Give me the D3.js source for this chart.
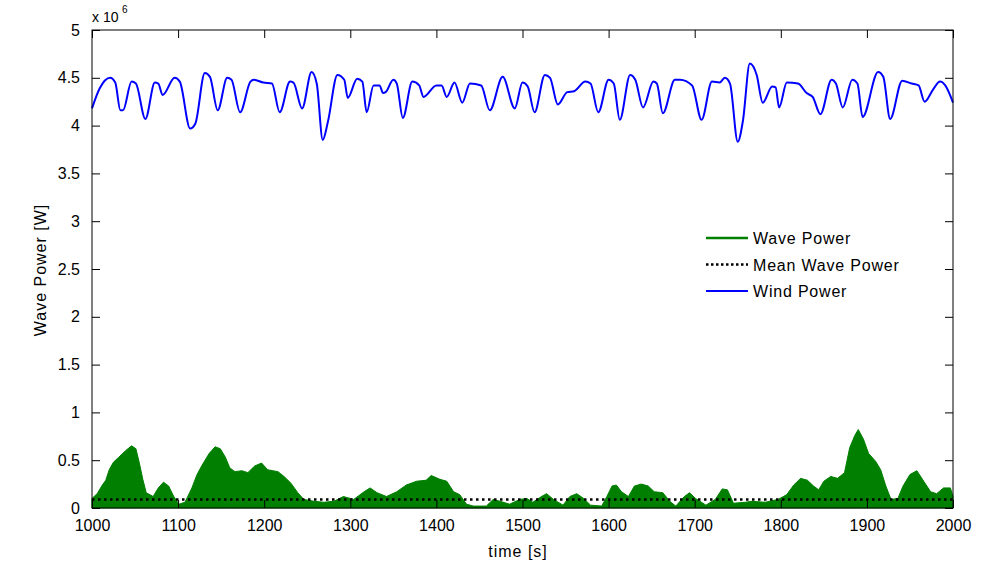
<!DOCTYPE html>
<html>
<head>
<meta charset="utf-8">
<script src="https://cdn.jsdelivr.net/npm/d3@7"></script>
<style>
  body { margin: 0; background: #fff; }
  text { font-family: "Liberation Sans", Arial, sans-serif; }
</style>
</head>
<body>
<svg id="chart" width="994" height="567"></svg>
<script>
// wind power (x 1e6 W)
var windT = [1000,1009,1021,1027,1033,1036,1046,1051,1062,1073,1077,1082,1096,1102,1114,1120,1131,1137,1146,1157,1162,1172,1184,1188,1199,1209,1218,1230,1234,1244,1255,1261,1268,1274,1285,1293,1297,1308,1314,1319,1327,1334,1338,1341,1350,1354,1361,1372,1380,1385,1400,1406,1412,1421,1430,1439,1452,1462,1477,1491,1500,1506,1514,1526,1532,1541,1552,1560,1573,1579,1588,1600,1606,1613,1625,1631,1640,1652,1656,1663,1677,1683,1697,1708,1720,1729,1735,1741,1750,1756,1764,1772,1779,1790,1794,1798,1807,1820,1830,1837,1846,1859,1864,1872,1883,1889,1895,1913,1919,1927,1941,1952,1960,1967,1977,1985,1991,2000];
var windV = [4.18,4.39,4.50,4.45,4.16,4.16,4.46,4.44,4.07,4.45,4.44,4.32,4.50,4.46,3.97,4.02,4.55,4.51,4.16,4.50,4.48,4.14,4.46,4.48,4.45,4.44,4.14,4.46,4.45,4.18,4.56,4.44,3.85,4.04,4.53,4.48,4.29,4.49,4.46,4.14,4.42,4.42,4.34,4.35,4.48,4.44,4.08,4.46,4.42,4.30,4.42,4.42,4.30,4.45,4.24,4.44,4.42,4.16,4.51,4.18,4.45,4.41,4.14,4.53,4.50,4.22,4.35,4.36,4.46,4.44,4.14,4.48,4.44,4.06,4.53,4.48,4.19,4.46,4.44,4.13,4.48,4.48,4.42,4.06,4.46,4.45,4.50,4.44,3.83,4.05,4.65,4.53,4.24,4.41,4.40,4.19,4.45,4.44,4.34,4.30,4.12,4.48,4.44,4.19,4.48,4.44,4.09,4.56,4.51,4.07,4.47,4.44,4.42,4.25,4.38,4.46,4.42,4.24];

// wave power envelope (x 1e6 W)
var waveT = [1000,1006,1012,1016,1020,1025,1031,1039,1046,1051,1055,1059,1063,1071,1077,1083,1089,1095,1101,1108,1116,1122,1128,1136,1143,1149,1155,1160,1166,1174,1181,1189,1197,1204,1216,1223,1231,1239,1246,1258,1269,1281,1292,1304,1316,1323,1331,1342,1354,1365,1377,1388,1394,1404,1412,1420,1427,1435,1443,1458,1466,1474,1485,1497,1505,1512,1522,1528,1536,1547,1555,1563,1571,1579,1592,1598,1604,1609,1615,1623,1630,1638,1646,1653,1663,1671,1678,1688,1694,1701,1713,1724,1732,1738,1745,1759,1766,1782,1797,1807,1815,1823,1831,1838,1844,1850,1858,1866,1874,1880,1886,1890,1896,1902,1910,1916,1922,1928,1936,1942,1950,1958,1966,1974,1981,1989,1997,2000];
var waveV = [0.10,0.15,0.24,0.29,0.40,0.48,0.53,0.60,0.65,0.62,0.47,0.30,0.16,0.12,0.21,0.27,0.23,0.12,0.04,0.06,0.21,0.35,0.45,0.57,0.64,0.62,0.53,0.42,0.38,0.39,0.37,0.44,0.47,0.40,0.38,0.33,0.26,0.16,0.09,0.07,0.06,0.07,0.12,0.09,0.17,0.21,0.16,0.12,0.17,0.24,0.28,0.29,0.34,0.30,0.28,0.17,0.14,0.04,0.02,0.02,0.09,0.07,0.04,0.09,0.10,0.06,0.12,0.15,0.09,0.03,0.12,0.15,0.10,0.03,0.02,0.12,0.23,0.24,0.17,0.12,0.23,0.25,0.23,0.17,0.16,0.07,0.02,0.12,0.16,0.10,0.03,0.09,0.20,0.19,0.05,0.06,0.07,0.06,0.09,0.14,0.24,0.31,0.29,0.23,0.19,0.28,0.33,0.31,0.37,0.63,0.76,0.82,0.72,0.57,0.49,0.40,0.23,0.09,0.10,0.23,0.35,0.39,0.28,0.17,0.15,0.21,0.21,0.12];

var meanWave = 0.09;
var xTicks = [1000,1100,1200,1300,1400,1500,1600,1700,1800,1900,2000];
var yTicks = [0,0.5,1,1.5,2,2.5,3,3.5,4,4.5,5];
var legendNames = ["Wave Power", "Mean Wave Power", "Wind Power"];

var margin = {left: 92, top: 30, right: 41, bottom: 59};
var width = 994 - margin.left - margin.right;
var height = 567 - margin.top - margin.bottom;

var svg = d3.select("#chart");
var g = svg.append("g").attr("transform", "translate(" + margin.left + "," + margin.top + ")");

var x = d3.scaleLinear().domain([1000, 2000]).range([0, width]);
var y = d3.scaleLinear().domain([0, 5]).range([height, 0]);

// wave power, drawn as filled band
var wave = waveT.map(function(t, i) { return [t, waveV[i]]; });
g.append("path")
  .datum(wave)
  .attr("fill", "#007f00")
  .attr("stroke", "#007f00")
  .attr("stroke-width", 1)
  .attr("d", d3.area().x(function(d) { return x(d[0]); }).y0(y(0)).y1(function(d) { return y(d[1]); }));

// mean
g.append("line")
  .attr("x1", x(1000)).attr("x2", x(2000))
  .attr("y1", y(meanWave)).attr("y2", y(meanWave))
  .attr("stroke", "#000").attr("stroke-width", 2.5).attr("stroke-dasharray", "2.5,3.5");

// wind
var wind = windT.map(function(t, i) { return [t, windV[i]]; });
g.append("path")
  .datum(wind)
  .attr("fill", "none")
  .attr("stroke", "#0000ff")
  .attr("stroke-width", 2)
  .attr("d", d3.line().curve(d3.curveMonotoneX).x(function(d) { return x(d[0]); }).y(function(d) { return y(d[1]); }));

// box and ticks
g.append("rect").attr("width", width).attr("height", height)
  .attr("fill", "none").attr("stroke", "#000").attr("stroke-width", 1);

var fmt = function(d) { return String(d); };
g.append("g").attr("transform", "translate(0," + height + ")")
  .call(d3.axisBottom(x).tickValues(xTicks).tickSize(-8).tickPadding(12).tickFormat(fmt));
g.append("g")
  .call(d3.axisTop(x).tickValues(xTicks).tickSize(-8).tickFormat(""));
g.append("g")
  .call(d3.axisLeft(y).tickValues(yTicks).tickSize(-8).tickPadding(12).tickFormat(fmt));
g.append("g").attr("transform", "translate(" + width + ",0)")
  .call(d3.axisRight(y).tickValues(yTicks).tickSize(-8).tickFormat(""));

g.selectAll(".domain").remove();
g.selectAll(".tick text").attr("font-size", 16).attr("fill", "#000")
  .attr("font-family", "Liberation Sans, Arial, sans-serif");
g.selectAll(".tick line").attr("stroke", "#000");

// exponent
svg.append("text").attr("x", 92).attr("y", 22).attr("font-size", 14).text("x 10");
svg.append("text").attr("x", 122).attr("y", 13).attr("font-size", 10).text("6");

// labels
svg.append("text").attr("x", 518).attr("y", 557).attr("text-anchor", "middle")
  .attr("font-size", 16).attr("letter-spacing", 1).text("time [s]");
svg.append("text").attr("transform", "translate(46,270) rotate(-90)").attr("text-anchor", "middle")
  .attr("font-size", 16).attr("letter-spacing", 1).text("Wave Power [W]");

// legend
var legendStyle = [
  {stroke: "#007f00", width: 2.5, dash: null},
  {stroke: "#000", width: 2.5, dash: "2.5,2.5"},
  {stroke: "#0000ff", width: 2, dash: null}
];
var lg = svg.append("g").attr("transform", "translate(706,238)");
legendNames.forEach(function(name, i) {
  var row = lg.append("g").attr("transform", "translate(0," + (i * 26.5) + ")");
  row.append("line").attr("x1", 0).attr("x2", 42).attr("y1", 0).attr("y2", 0)
    .attr("stroke", legendStyle[i].stroke).attr("stroke-width", legendStyle[i].width)
    .attr("stroke-dasharray", legendStyle[i].dash);
  row.append("text").attr("x", 47).attr("y", 6).attr("font-size", 16)
    .attr("letter-spacing", 0.8).text(name);
});
</script>
</body>
</html>
